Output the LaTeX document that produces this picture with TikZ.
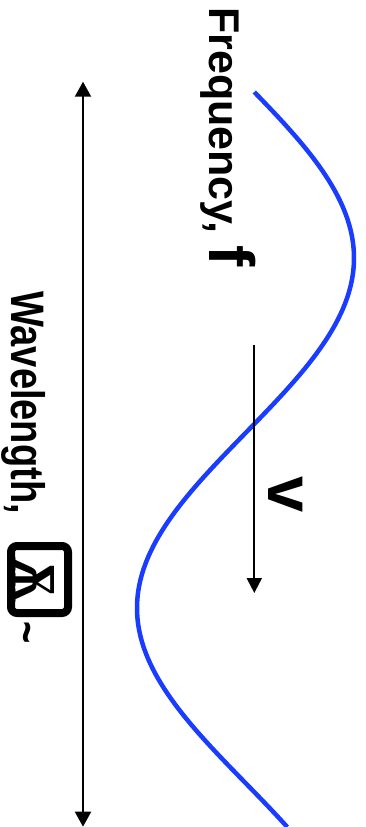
\documentclass[tikz,border=0pt]{standalone}
\usepackage{fontspec}
\setmainfont{Liberation Sans}
\newfontfamily\glyphfont{DejaVu Serif}
\usepackage{graphicx}
\usepackage{xcolor}
\usetikzlibrary{arrows.meta}
\definecolor{waveblue}{RGB}{25,60,255}

\tikzset{
  label text/.style={inner sep=0pt, rotate=-90},
  tip/.style={line width=2pt},
}

\begin{document}
\begin{tikzpicture}[x=1pt,y=-1pt]
\useasboundingbox (0,0) rectangle (366,827);
\def\xc{245.5}\def\amp{108.5}\def\ymax{258}\def\halfp{350}
% Wave
\draw[waveblue, line width=4.5pt, domain=92:827, samples=150, variable=\t]
  plot ({\xc+\amp*cos((\t-\ymax)/\halfp*180)}, \t);
% Wavelength arrow
\coordinate (wlTop) at (83,81.7);
\coordinate (wlBot) at (83,826.7);
\draw[tip, {Triangle[width=16pt,length=15pt]}-{Triangle[width=16pt,length=15pt]}]
  (wlTop) -- (wlBot);
% Speed arrow
\coordinate (vTop) at (254.3,345);
\coordinate (vTip) at (254.3,593);
\draw[tip, -{Triangle[width=15pt,length=15pt]}] (vTop) -- (vTip);
% Labels
\node[label text, anchor=base west, font=\bfseries\fontsize{43}{43}\selectfont]
  (freq) at (209,7) {Frequency, {\fontsize{64}{64}\selectfont f}};
\node[label text, anchor=base, font=\bfseries\fontsize{65}{65}\selectfont]
  (vlab) at (268,494.5) {v};
\node[label text, anchor=base west, font=\bfseries\fontsize{47}{47}\selectfont]
  (wl) at (12,291) {\scalebox{0.81}[1]{Wavelength,}};
% Lambda box
\node[draw, line width=8pt, rounded corners=6pt, minimum width=57pt,
  minimum height=67pt, inner sep=0pt] (lambdabox) at (39.5,579.5) {};
\node[label text, font=\glyphfont\bfseries] (lambdaglyph) at (34,579.5)
  {\resizebox{45pt}{42pt}{Ѫ}};
\node[label text, anchor=base west, font=\bfseries\fontsize{47}{47}\selectfont]
  (tilde) at (12,621) {\scalebox{0.81}[1]{\textasciitilde}};
\end{tikzpicture}
\end{document}
